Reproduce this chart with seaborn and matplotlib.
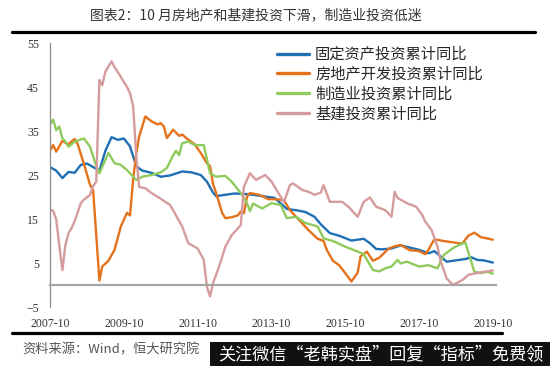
import matplotlib
matplotlib.use('Agg')
import matplotlib.pyplot as plt
import matplotlib.dates as mdates
from matplotlib.lines import Line2D
from matplotlib.patches import Rectangle
import pandas as pd
import seaborn as sns

# month offsets from 2007-10, values in %
start = pd.Period('2007-10', 'M')

fai_m = [0, 2, 4, 6, 8, 10, 12, 14, 16, 18, 20, 22, 24, 26, 28, 30, 33, 36, 39, 43, 46, 49, 51, 53,
         54, 57, 60, 63, 66, 69, 73, 77, 80, 83, 86, 88, 91, 94, 98, 102, 104, 106, 108, 111, 114,
         117, 120, 123, 125, 127, 129, 132, 135, 137, 139, 141, 144]
fai_v = [26.8, 26.0, 24.3, 25.7, 25.5, 27.3, 27.6, 26.8, 26.0, 30.5, 33.6, 33.0, 33.3, 31.5, 27.0,
         26.0, 25.5, 24.6, 24.9, 25.8, 25.6, 25.0, 23.5, 21.0, 20.2, 20.5, 20.8, 20.7, 20.5, 20.2,
         19.8, 17.3, 17.0, 16.6, 15.5, 13.8, 11.8, 11.2, 10.1, 10.5, 9.5, 8.2, 8.1, 8.3, 9.0, 8.5,
         8.0, 7.2, 7.7, 6.5, 5.3, 5.6, 5.9, 6.3, 5.7, 5.6, 5.1]

re_m = [0, 1, 2, 3, 4, 5, 6, 8, 9, 11, 13, 14, 16, 17, 19, 21, 23, 25, 26, 27, 28, 29, 31, 33, 35,
        36, 37, 38, 40, 42, 43, 45, 47, 49, 51, 52, 53, 54, 56, 57, 59, 61, 62, 63, 64, 65, 68, 71,
        73, 76, 78, 81, 84, 87, 89, 90, 92, 94, 96, 98, 100, 101, 103, 105, 107, 110, 112, 114, 117,
        120, 122, 123, 125, 128, 131, 134, 136, 138, 140, 142, 144]
re_v = [30.5, 31.8, 30.3, 31.5, 32.8, 32.3, 32.0, 33.2, 32.0, 27.5, 22.7, 21.5, 1.0, 4.2, 5.5, 8.0,
        13.3, 16.4, 15.8, 24.0, 30.0, 33.7, 38.3, 37.2, 36.5, 36.8, 36.0, 33.4, 35.3, 33.9, 34.2,
        33.0, 32.0, 30.0, 27.7, 27.0, 23.0, 20.9, 16.3, 15.2, 15.4, 15.8, 16.7, 16.3, 20.1, 20.9,
        20.5, 19.5, 19.5, 19.3, 17.0, 14.8, 12.5, 10.5, 10.0, 8.0, 5.5, 4.5, 2.7, 0.8, 2.8, 6.5,
        7.6, 5.5, 6.2, 8.2, 8.8, 9.1, 7.9, 7.7, 7.0, 8.0, 10.4, 10.0, 9.7, 9.4, 11.2, 11.9, 10.9,
        10.6, 10.3]

mfg_m = [0, 1, 2, 3, 4, 5, 6, 8, 11, 13, 15, 16, 19, 21, 23, 25, 28, 30, 33, 36, 38, 40, 41, 42,
         43, 45, 47, 50, 52, 54, 57, 59, 62, 64, 65, 66, 69, 72, 75, 77, 80, 83, 87, 89, 92, 96,
         100, 102, 105, 107, 109, 111, 113, 114, 116, 120, 123, 126, 128, 131, 133, 135, 138, 140,
         142, 144]
mfg_v = [36.5, 37.6, 35.2, 36.0, 33.3, 32.6, 31.4, 32.6, 33.3, 31.4, 27.0, 25.4, 30.0, 27.7, 27.3,
         26.1, 23.9, 24.6, 25.0, 25.6, 26.6, 29.5, 30.5, 29.5, 32.2, 32.6, 31.8, 31.8, 25.4, 24.6,
         24.8, 23.5, 20.9, 18.6, 16.8, 18.5, 17.4, 18.6, 18.2, 15.2, 15.5, 14.1, 13.3, 10.6, 10.0,
         8.7, 7.6, 7.0, 3.4, 3.1, 3.8, 4.2, 5.7, 4.9, 5.3, 4.2, 4.5, 3.8, 6.8, 8.4, 9.1, 9.7, 3.0,
         2.7, 3.0, 2.6]

infra_m = [0, 1, 2, 3, 4, 5, 6, 7, 8, 10, 11, 13, 14, 15, 16, 17, 18, 20, 21, 23, 25, 26, 27, 28,
           29, 31, 33, 36, 39, 40, 43, 45, 48, 50, 51, 52, 53, 55, 57, 59, 62, 63, 65, 67, 70, 72,
           74, 76, 78, 79, 82, 84, 86, 88, 89, 91, 95, 97, 100, 102, 104, 106, 109, 111, 112, 113,
           116, 119, 121, 122, 124, 126, 127, 129, 131, 134, 136, 138, 141, 144]
infra_v = [17.0, 16.9, 15.0, 9.0, 3.4, 9.0, 11.8, 12.9, 14.5, 18.6, 19.4, 20.5, 22.5, 23.5, 46.6,
           45.4, 48.5, 50.8, 49.5, 47.3, 45.0, 43.6, 40.6, 29.2, 22.3, 22.0, 20.9, 19.6, 18.2, 17.0,
           13.3, 9.5, 8.3, 5.7, -0.4, -2.6, 0.4, 4.2, 8.7, 11.3, 13.6, 22.3, 25.4, 23.9, 25.0, 23.5,
           21.2, 18.8, 22.7, 23.1, 21.6, 21.2, 20.5, 21.0, 22.7, 18.9, 18.9, 17.8, 15.5, 18.9, 19.9,
           17.8, 17.0, 15.5, 21.2, 19.8, 18.6, 17.8, 15.9, 14.4, 12.5, 8.7, 5.5, 1.5, 0.0, 1.1, 2.3,
           2.6, 3.0, 3.3]

names = ['固定资产投资累计同比', '房地产开发投资累计同比', '制造业投资累计同比', '基建投资累计同比']
colors = ['#1f6fb5', '#e5721b', '#8fca5c', '#d59b9d']

rows = []
for name, ms, vs in zip(names, [fai_m, re_m, mfg_m, infra_m], [fai_v, re_v, mfg_v, infra_v]):
    for m, v in zip(ms, vs):
        rows.append({'date': (start + m).to_timestamp(), 'value': v, 'series': name})
df = pd.DataFrame(rows)

sns.set_style('white')
plt.rcParams['font.family'] = ['Noto Sans CJK SC', 'DejaVu Sans']

fig = plt.figure(figsize=(5.5, 3.66), dpi=100)
ax = fig.add_axes([50 / 550, 1 - 307 / 366, 446 / 550, 264 / 366])

sns.lineplot(data=df, x='date', y='value', hue='series', hue_order=names,
             palette=dict(zip(names, colors)), linewidth=1.7, estimator=None, ax=ax)

ax.set_xlim(pd.Timestamp('2007-10-01'), pd.Timestamp('2019-11-01'))
ax.set_ylim(-5, 55)
ax.set_yticks(range(-5, 56, 10))
ax.set_xticks([pd.Timestamp(f'{y}-10-01') for y in range(2007, 2020, 2)])
ax.xaxis.set_major_formatter(mdates.DateFormatter('%Y-%m'))
ax.set_xlabel('')
ax.set_ylabel('')

for s in ['top', 'right']:
    ax.spines[s].set_visible(False)
ax.spines['bottom'].set_position(('data', 0))
ax.spines['bottom'].set_color('#a6a6a6')
ax.spines['bottom'].set_linewidth(1.6)
ax.spines['left'].set_color('#8c8c8c')
ax.spines['left'].set_linewidth(0.9)

ax.tick_params(axis='x', direction='out', length=3, pad=21, color='#8c8c8c',
               labelsize=8.5, labelcolor='#333333')
ax.tick_params(axis='y', direction='out', length=3, pad=5, color='#8c8c8c',
               labelsize=8.5, labelcolor='#333333')
for lab in ax.get_xticklabels() + ax.get_yticklabels():
    lab.set_fontfamily('Liberation Serif')

ax.legend(loc='upper left', bbox_to_anchor=(0.495, 1.012), frameon=False, fontsize=11,
          handlelength=2.1, handletextpad=0.4, labelspacing=0.18, borderaxespad=0)
for ln in ax.get_legend().get_lines():
    ln.set_linewidth(2.4)

# title and page rules
fig.text(256 / 550, 1 - 15 / 366, '图表2：10 月房地产和基建投资下滑，制造业投资低迷',
         ha='center', va='center', fontsize=10, color='#333333')
fig.add_artist(Line2D([12 / 550, 535 / 550], [1 - 32 / 366] * 2, color='black', linewidth=2.3))
fig.add_artist(Line2D([12 / 550, 502 / 550], [1 - 333 / 366] * 2, color='black', linewidth=2.3))
fig.text(22 / 550, 1 - 350 / 366, '资料来源：Wind，恒大研究院', ha='left', va='center',
         fontsize=9.5, style='italic', color='#555555')

# watermark banner
fig.add_artist(Rectangle((210 / 550, 0), 340 / 550, 24 / 366, transform=fig.transFigure,
                         facecolor='#111111', edgecolor='none'))
fig.text(381 / 550, 11 / 366, '关注微信“老韩实盘”回复“指标”免费领', ha='center', va='center',
         fontsize=12.3, color='white')

fig.savefig('out.png', dpi=100)
